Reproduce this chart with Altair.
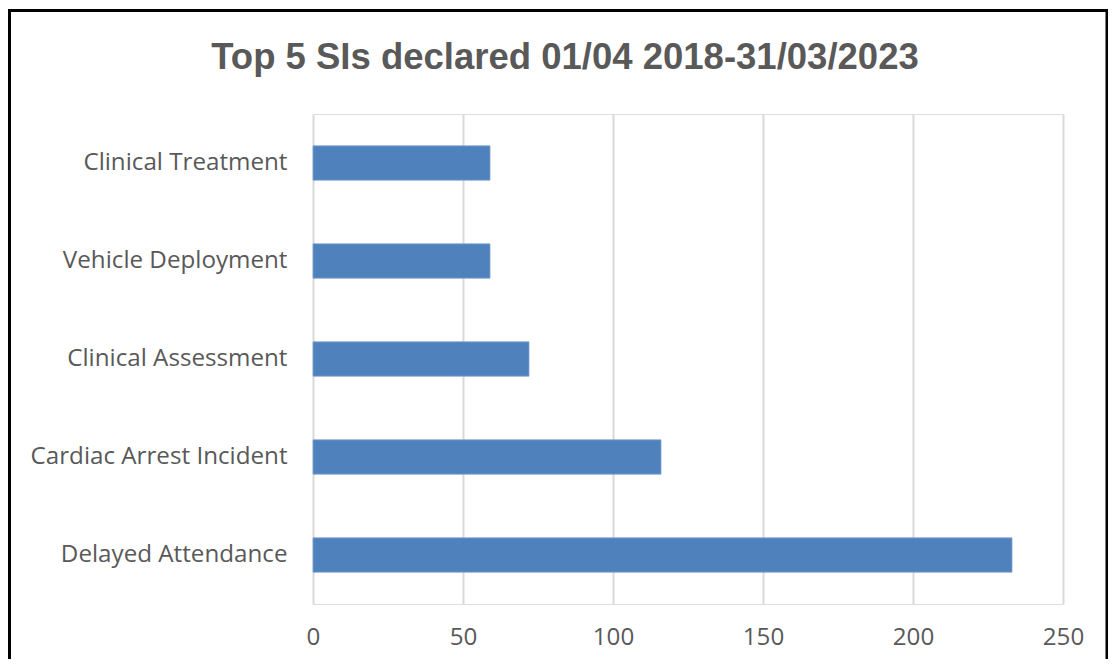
import altair as alt
import pandas as pd

categories = ["Clinical Treatment", "Vehicle Deployment", "Clinical Assessment",
              "Cardiac Arrest Incident", "Delayed Attendance"]
values = [59, 59, 72, 116, 233]
x_ticks = [0, 50, 100, 150, 200, 250]
title_text = "Top 5 SIs declared 01/04 2018-31/03/2023"

df = pd.DataFrame({"category": categories, "value": values})

label_font = "Open Sans"
label_size = 24.2

bars = alt.Chart(df).mark_bar(color="#4F81BD", stroke="#7fa3d0", strokeWidth=0.8).encode(
    x=alt.X("value:Q",
            scale=alt.Scale(domain=[0, 250], nice=False),
            axis=alt.Axis(values=x_ticks, title=None, grid=True, gridColor="#d9d9d9",
                          gridWidth=2, domain=False, ticks=False, labelPadding=21,
                          labelFlush=False, labelOverlap=False,
                          labelFont=label_font, labelFontSize=label_size, labelColor="#595959")),
    y=alt.Y("category:N", sort=categories,
            scale=alt.Scale(paddingInner=0.65, paddingOuter=0.325),
            axis=alt.Axis(title=None, domain=False, ticks=False, labelPadding=26,
                          labelFont=label_font, labelFontSize=label_size, labelColor="#595959",
                          labelLimit=400)),
)

title = alt.Chart(pd.DataFrame({"t": [title_text]})).mark_text(
    font="Liberation Sans", fontSize=36.5, fontWeight="bold", color="#595959",
    align="center", baseline="alphabetic", clip=False
).encode(text="t:N", x=alt.value(252), y=alt.value(-45.5))

border = alt.Chart(pd.DataFrame({"a": [0]})).mark_rect(
    filled=False, stroke="black", strokeWidth=3, clip=False
).encode(
    x=alt.value(-303.5), x2=alt.value(794), y=alt.value(-103.5), y2=alt.value(800)
)

chart = alt.layer(bars, title, border).properties(
    width=750, height=490,
    padding={"left": 305, "top": 106, "right": 45, "bottom": 55},
    autosize=alt.AutoSizeParams(type="none"),
).configure_view(stroke=None).configure(background="white")

chart.save("out.html", embed_options={"renderer": "svg", "actions": False})
